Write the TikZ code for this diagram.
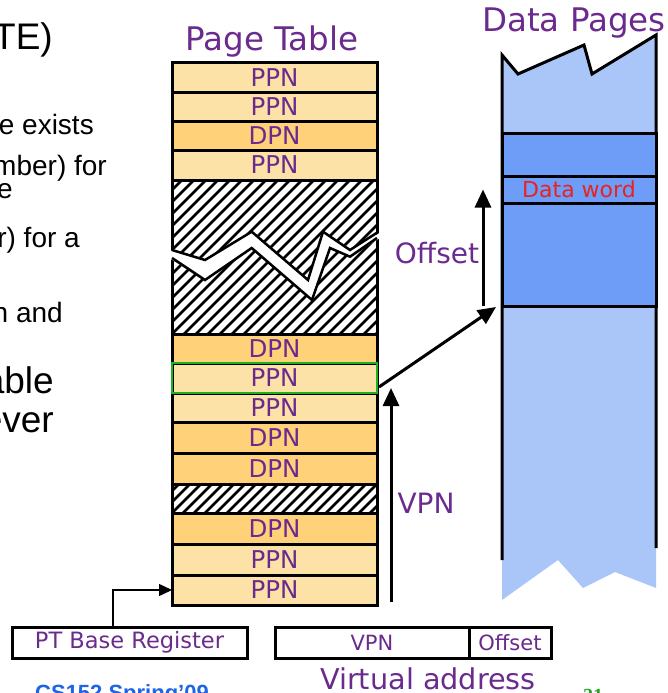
\documentclass[tikz,border=0pt]{standalone}
\usepackage{fontspec}
\setmainfont{DejaVu Sans}
\newfontfamily\slidefont{Liberation Sans}
\newfontfamily\numfont{Liberation Serif}
\usetikzlibrary{arrows.meta}

\definecolor{ptpurple}{HTML}{6A2A8E}
\definecolor{ppnfill}{HTML}{FCE2A6}
\definecolor{dpnfill}{HTML}{FFD27A}
\definecolor{pageblue}{HTML}{6E9DF8}
\definecolor{pagedots}{HTML}{AAC6F8}
\definecolor{selgreen}{HTML}{1DB21D}
\definecolor{wordred}{HTML}{E8231F}
\definecolor{footblue}{HTML}{1E64E6}
\definecolor{footgreen}{HTML}{20A020}

\tikzset{
  row/.style={draw=black, line width=3pt, minimum width=205pt, inner sep=0pt,
    outer sep=0pt, text=ptpurple, font=\fontsize{24.5}{24.5}\selectfont},
  ppn/.style={row, fill=ppnfill},
  dpn/.style={row, fill=dpnfill},
  hatchrow/.style={row, fill=white},
  hatchline/.style={line width=2.6pt, black},
  pageblk/.style={draw=black, line width=3pt, fill=pageblue, minimum width=154pt,
    inner sep=0pt, outer sep=0pt},
  regbox/.style={draw=black, line width=3pt, fill=white, minimum height=31pt,
    inner sep=0pt, outer sep=0pt, text=ptpurple, font=\fontsize{21}{21}\selectfont},
  bigarrow/.style={line width=3pt, -{Triangle[length=18pt,width=16pt]}},
  thinarrow/.style={line width=1.3pt, -{Triangle[length=13pt,width=12pt]}},
  title/.style={text=ptpurple, inner sep=0pt, font=\fontsize{32.5}{32.5}\selectfont},
  label/.style={text=ptpurple, inner sep=0pt, font=\fontsize{28}{28}\selectfont},
  slidesmall/.style={anchor=base east, inner sep=0pt, font=\slidefont\fontsize{28}{28}\selectfont},
  slidebig/.style={anchor=base east, inner sep=0pt, font=\slidefont\fontsize{37}{37}\selectfont}
}

\begin{document}
\begin{tikzpicture}[x=1pt,y=-1pt]
\useasboundingbox (0,0) rectangle (668,693);
\clip (0,0) rectangle (668,693);

% text of the slide on the left
\node[slidebig] (t1) at (53,50) {TE)};
\node[slidesmall] (t2) at (94,134) {e exists};
\node[slidesmall] (t3) at (107,175) {mber) for};
\node[slidesmall] (t4) at (13,198) {e};
\node[slidesmall] (t5) at (80,247) {r) for a};
\node[slidesmall] (t6) at (63,322) {n and};
\node[slidebig] (t7) at (54,393) {able};
\node[slidebig] (t8) at (54,432) {ever};

% titles
\node[title, anchor=base] (pttitle) at (272,51) {Page Table};
\node[title, anchor=base] (dptitle) at (574,32) {Data Pages};

% page table rows
\node[ppn, minimum height=29pt] (r1) at (274.5,77.5) {PPN};
\node[ppn, minimum height=29pt] (r2) at (274.5,106.5) {PPN};
\node[dpn, minimum height=29pt] (r3) at (274.5,135.5) {DPN};
\node[ppn, minimum height=30pt] (r4) at (274.5,165) {PPN};
\node[hatchrow, minimum height=154pt] (h1) at (274.5,257) {};
\node[dpn, minimum height=29pt] (r5) at (274.5,348.5) {DPN};
\node[ppn, minimum height=30pt] (r6) at (274.5,378) {PPN};
\node[ppn, minimum height=29pt] (r7) at (274.5,407.5) {PPN};
\node[dpn, minimum height=31pt] (r8) at (274.5,437.5) {DPN};
\node[dpn, minimum height=31pt] (r9) at (274.5,468.5) {DPN};
\node[hatchrow, minimum height=29pt] (h2) at (274.5,498.5) {};
\node[dpn, minimum height=31pt] (r10) at (274.5,528.5) {DPN};
\node[ppn, minimum height=31pt] (r11) at (274.5,559.5) {PPN};
\node[ppn, minimum height=30pt] (r12) at (274.5,590) {PPN};

% diagonal hatching of unused entries
\begin{scope}
  \clip (h1.south west) rectangle (h1.north east);
  \foreach \k in {-14,...,18}
    \draw[hatchline] ({172+\k*12},334) -- ++(165,-165);
\end{scope}
\begin{scope}
  \clip (h2.south west) rectangle (h2.north east);
  \foreach \k in {-4,...,18}
    \draw[hatchline] ({172+\k*11},513) -- ++(40,-40);
\end{scope}

% torn break across the large unused block
\fill[white] (169,250) -- (205,260) -- (251.7,231.7) -- (308,280) -- (323,231.7)
  -- (350,250) -- (380,232.7) -- (380,238) -- (350,256.7) -- (330,248)
  -- (312,300) -- (251.7,248) -- (205,280) -- (169,258) -- cycle;
\draw[line width=2.5pt, line join=miter] (172,250) -- (205,260) -- (251.7,231.7)
  -- (308,280) -- (323,231.7) -- (350,250) -- (377,232.7);
\draw[line width=2.5pt, line join=miter] (172,258) -- (205,280) -- (251.7,248)
  -- (312,300) -- (330,248) -- (350,256.7) -- (377,238);

% selected entry
\draw[selgreen, line width=2.6pt] (r6.south west) rectangle (r6.north east);

% data pages column
\fill[pagedots] (502,55) -- (518,74) -- (584,45) -- (592,74) -- (656,35)
  -- (656,588) -- (615,572) -- (583,588) -- (558,560) -- (502,600) -- cycle;
\draw[line width=3pt, line join=miter] (502,560) -- (502,55) -- (518,74)
  -- (584,45) -- (592,74) -- (656,35) -- (656,548);
\node[pageblk, minimum height=43pt] (blkA) at (579,154.5) {};
\node[pageblk, minimum height=27pt, text=wordred,
  font=\fontsize{22}{22}\selectfont] (word) at (579,189.5) {Data word};
\node[pageblk, minimum height=103pt] (blkB) at (579,254.5) {};

% arrows
\coordinate (vbot) at (391,602);
\coordinate (vtop) at (391,388);
\draw[bigarrow] (vbot) -- (vtop);
\coordinate (offbot) at ([xshift=-19pt]blkB.south west);
\coordinate (offtop) at ([xshift=-19pt]word.west);
\draw[bigarrow] (offbot) -- (offtop);
\draw[bigarrow] ([xshift=2pt,yshift=-9pt]r6.east) -- ([xshift=-6pt,yshift=-1pt]blkB.south west);

\node[label] (offlbl) at (437,253) {Offset};
\node[label] (vpnlbl) at (426,503) {VPN};

% registers
\node[regbox, minimum width=235pt, font=\fontsize{22.5}{22.5}\selectfont] (ptbr) at (129.5,642.5) {PT Base Register};
\node[regbox, minimum width=194pt] (vpnbox) at (372,642.5) {VPN};
\node[regbox, minimum width=82pt] (offbox) at (510,642.5) {Offset};
\draw[thinarrow] ([xshift=-16.5pt]ptbr.north) |- (r12.west);

\node[label, anchor=base, font=\fontsize{28.7}{28.7}\selectfont] (vaddr) at (428,689) {Virtual address};

% footer
\node[anchor=base west, inner sep=0pt, text=footblue,
  font=\slidefont\bfseries\fontsize{22}{22}\selectfont] (foot) at (35,700) {CS152 Spring’09};
\node[anchor=base west, inner sep=0pt, text=footgreen,
  font=\numfont\bfseries\fontsize{20}{20}\selectfont] (pgnum) at (583,702) {21};
\end{tikzpicture}
\end{document}
